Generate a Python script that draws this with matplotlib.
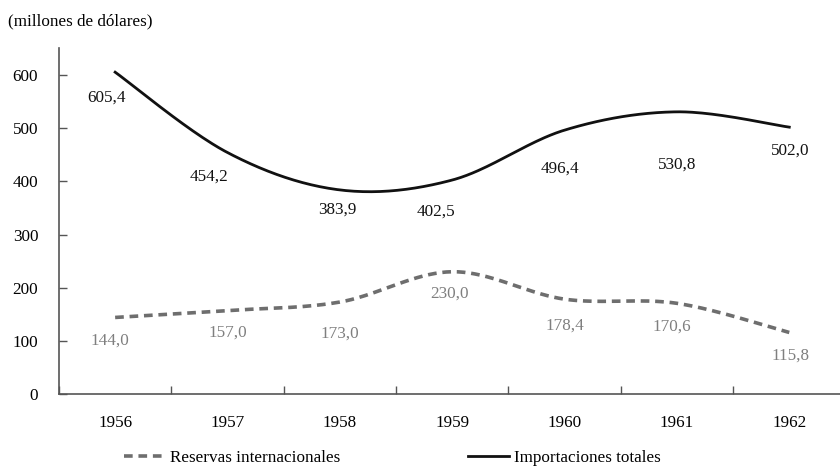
import numpy as np
import matplotlib.pyplot as plt
from matplotlib.ticker import FixedLocator

plt.rcParams['font.family'] = ['Liberation Serif', 'DejaVu Serif']

years = ['1956', '1957', '1958', '1959', '1960', '1961', '1962']
importaciones = [605.4, 454.2, 383.9, 402.5, 496.4, 530.8, 502.0]
reservas = [144.0, 157.0, 173.0, 230.0, 178.4, 170.6, 115.8]

# desplazamiento de las etiquetas (puntos)
off_imp = [(-6, -18), (-13, -17), (-2, -14), (-12, -23), (-3, -28), (0, -38), (1, -17)]
off_res = [(-4, -17), (0, -16), (0, -23), (-2, -16), (0, -19), (-4, -17), (1, -17)]

fs = 12.3


def smooth(y, n=40):
    # curva suavizada tipo Bezier como en las hojas de calculo
    x = np.arange(len(y), dtype=float)
    y = np.asarray(y, dtype=float)
    pts = np.column_stack([x, y])
    ext = np.vstack([pts[0], pts, pts[-1]])
    out = []
    t = np.linspace(0, 1, n)[:, None]
    for i in range(len(pts) - 1):
        p0, p3 = ext[i + 1], ext[i + 2]
        p1 = p0 + (ext[i + 2] - ext[i]) / 6
        p2 = p3 - (ext[i + 3] - ext[i + 1]) / 6
        seg = ((1 - t) ** 3) * p0 + 3 * ((1 - t) ** 2) * t * p1 + 3 * (1 - t) * t ** 2 * p2 + t ** 3 * p3
        out.append(seg)
    c = np.vstack(out)
    return c[:, 0], c[:, 1]


fig = plt.figure(figsize=(8.4, 4.66), dpi=100)
ax = fig.add_axes([0.0702, 0.1545, 0.9363, 0.7415])

gris = '#6e6e6e'
xs, ys = smooth(reservas)
ax.plot(xs, ys, color=gris, lw=2.6, dashes=(2.4, 1.6), label='Reservas internacionales')
xs, ys = smooth(importaciones)
ax.plot(xs, ys, color='#111111', lw=2.0, label='Importaciones totales')

for i, v in enumerate(importaciones):
    ax.annotate(f'{v:.1f}'.replace('.', ','), (i, v), xytext=off_imp[i], textcoords='offset points',
                ha='center', va='center', fontsize=fs, color='#111111')
for i, v in enumerate(reservas):
    ax.annotate(f'{v:.1f}'.replace('.', ','), (i, v), xytext=off_res[i], textcoords='offset points',
                ha='center', va='center', fontsize=fs, color='#7f7f7f')

ax.set_xlim(-0.5, 6.5)
ax.set_ylim(0, 650)
ax.set_yticks(range(0, 601, 100))
ax.set_xticks(range(len(years)))
ax.set_xticklabels(years)
ax.xaxis.set_minor_locator(FixedLocator(np.arange(-0.5, 6.6, 1)))
ax.tick_params(axis='x', which='major', length=0, pad=15, labelsize=fs)
ax.tick_params(axis='x', which='minor', direction='in', length=6, width=1, color='#555555')
ax.tick_params(axis='y', direction='in', length=6, width=1, color='#555555', pad=15, labelsize=fs)

for s in ['top', 'right']:
    ax.spines[s].set_visible(False)
for s in ['left', 'bottom']:
    ax.spines[s].set_color('#555555')
    ax.spines[s].set_linewidth(1.2)

fig.text(0.01, 0.955, '(millones de dólares)', fontsize=fs, ha='left', va='center')

fig.legend(loc='center', bbox_to_anchor=(0.467, 0.018), ncol=2, frameon=False, fontsize=fs,
           handlelength=2.4, columnspacing=7.5, handletextpad=0.3)

fig.savefig('out.png', dpi=100)
